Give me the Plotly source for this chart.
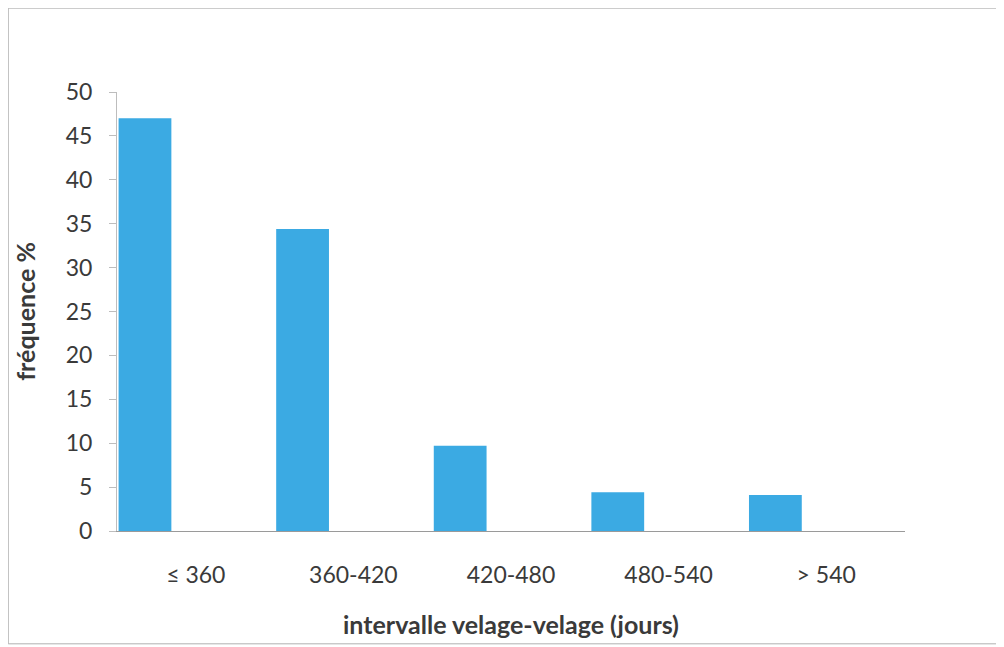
import plotly.graph_objects as go

categories = ["≤ 360", "360-420", "420-480", "480-540", "> 540"]
frequence = [47.0, 34.4, 9.7, 4.4, 4.1]
y_ticks = [0, 5, 10, 15, 20, 25, 30, 35, 40, 45, 50]

fig = go.Figure()
fig.add_trace(go.Bar(
    x=categories, y=frequence,
    marker=dict(color="#3BAAE3", line=dict(width=0)),
    width=0.335, offset=-0.49,
    showlegend=False,
))

font_family = "Lato, 'Open Sans', sans-serif"
txt = "#3a3a3a"
fig.update_layout(
    width=996, height=639,
    margin=dict(l=109, r=99, t=84, b=116),
    paper_bgcolor="white", plot_bgcolor="white",
    font=dict(family=font_family, size=23, color=txt),
    xaxis=dict(
        type="category", showgrid=False, showline=True, linecolor="#9a9a9a", linewidth=1,
        ticks="", ticklabelstandoff=23, tickfont=dict(size=23, color=txt),
        title=dict(text="<b>intervalle velage-velage (jours)</b>", font=dict(size=25, color=txt), standoff=29),
    ),
    yaxis=dict(
        range=[0, 50], tickvals=y_ticks, showgrid=False, showline=True, linecolor="#bdbdbd", linewidth=1,
        ticks="outside", ticklen=7, tickcolor="#bdbdbd", zeroline=False,
        ticklabelstandoff=12, tickfont=dict(size=23, color=txt),
        title=dict(text="<b>fréquence %</b>", font=dict(size=25, color=txt), standoff=22),
    ),
    shapes=[dict(type="rect", xref="paper", yref="paper", x0=-0.138, x1=1.123, y0=-0.257, y1=1.191,
                 line=dict(color="#b0b0b0", width=1))],
)

fig.write_html("out.html")
